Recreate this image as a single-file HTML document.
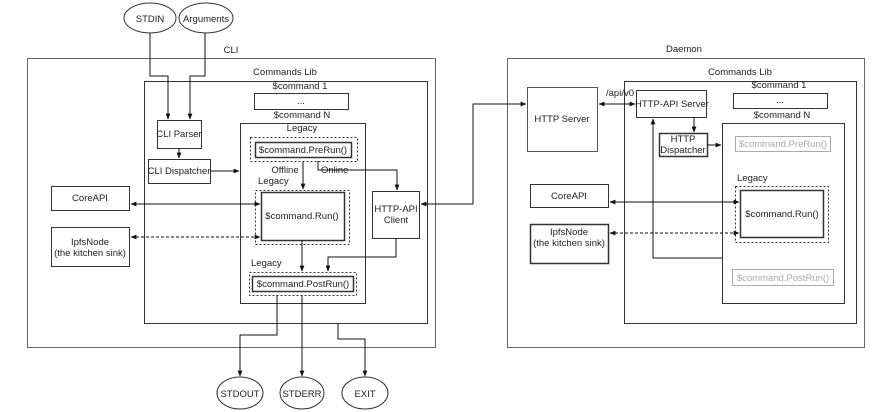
<!DOCTYPE html>
<html><head><meta charset="utf-8"><style>
html,body{margin:0;padding:0;background:#fff}
svg{display:block}
text{font-family:"Liberation Sans",sans-serif;font-size:9.5px;fill:#222}
</style></head><body>
<svg width="880" height="412" viewBox="0 0 880 412" xmlns="http://www.w3.org/2000/svg">
<defs>
<marker id="a" viewBox="0 0 10 10" refX="9" refY="5" markerWidth="6" markerHeight="6" orient="auto-start-reverse"><path d="M0,1 L10,5 L0,9 z" fill="#111"/></marker>
</defs>
<g fill="none" stroke="#333" stroke-width="1">
<ellipse cx="150" cy="18" rx="26" ry="15"/>
<ellipse cx="206" cy="18" rx="27" ry="15"/>
<ellipse cx="240" cy="393" rx="23" ry="16"/>
<ellipse cx="302" cy="393" rx="22" ry="16"/>
<ellipse cx="365" cy="393" rx="23" ry="16"/>
<rect x="27.5" y="58.5" width="408" height="289" stroke="#666"/>
<rect x="144.5" y="81.5" width="283" height="242"/>
<rect x="254.5" y="93.5" width="94" height="16"/>
<rect x="240.5" y="123.5" width="125" height="180"/>
<rect x="250.5" y="137.5" width="107" height="24" stroke-dasharray="2,2"/>
<rect x="255.5" y="142.5" width="96" height="15" stroke-width="1.5"/>
<rect x="255.5" y="190.5" width="94" height="54" stroke-dasharray="2,2"/>
<rect x="261.5" y="192.5" width="83" height="48" stroke-width="1.5"/>
<rect x="372.5" y="191.5" width="47" height="47"/>
<rect x="249.5" y="272.5" width="107" height="23" stroke-dasharray="2,2"/>
<rect x="252.5" y="276.5" width="101" height="15" stroke-width="1.5"/>
<rect x="157.5" y="120.5" width="44" height="28"/>
<rect x="148.5" y="159.5" width="62" height="24"/>
<rect x="51.5" y="186.5" width="78" height="24"/>
<rect x="51.5" y="227.5" width="78" height="39"/>
<rect x="507.5" y="58.5" width="357" height="289" stroke="#666"/>
<rect x="624.5" y="81.5" width="232" height="242"/>
<rect x="527.5" y="87.5" width="70" height="64" stroke="#555"/>
<rect x="636.5" y="90.5" width="70" height="27"/>
<rect x="733.5" y="93.5" width="94" height="15"/>
<rect x="722.5" y="123.5" width="122" height="180"/>
<rect x="659.5" y="133.5" width="48" height="23" stroke-width="1.5"/>
<rect x="735.5" y="136.5" width="95" height="15" stroke="#aaa"/>
<rect x="735.5" y="186.5" width="93" height="56" stroke-dasharray="2,2"/>
<rect x="740.5" y="190.5" width="83" height="47" stroke-width="1.5"/>
<rect x="530.5" y="184.5" width="78" height="23"/>
<rect x="530.5" y="224.5" width="78" height="39" stroke-width="1.5"/>
<rect x="732.5" y="269.5" width="101" height="16" stroke="#aaa"/>
</g>
<g fill="none" stroke="#111" stroke-width="1">
<path d="M150,33 V76 H168 V119" marker-end="url(#a)"/>
<path d="M205,33 V76 H190 V119" marker-end="url(#a)"/>
<path d="M179,148 V158" marker-end="url(#a)"/>
<path d="M210,171 H239" marker-end="url(#a)"/>
<path d="M303,161 V189" marker-end="url(#a)"/>
<path d="M318,161 V170 H397 V190" marker-end="url(#a)"/>
<path d="M131,204 H260" marker-start="url(#a)" marker-end="url(#a)"/>
<path d="M131,237 H260" stroke-dasharray="3,2" marker-start="url(#a)" marker-end="url(#a)"/>
<path d="M302,240 V271" marker-end="url(#a)"/>
<path d="M396,238 V257 H328 V271" marker-end="url(#a)"/>
<path d="M277,295 V335 H240 V376" marker-end="url(#a)"/>
<path d="M302,295 V376" marker-end="url(#a)"/>
<path d="M338,323 V339 H365 V376" marker-end="url(#a)"/>
<path d="M421,204 H473 V104 H526" marker-start="url(#a)" marker-end="url(#a)"/>
<path d="M599,104 H635" marker-start="url(#a)" marker-end="url(#a)"/>
<path d="M694,117 V132" marker-end="url(#a)"/>
<path d="M707,145 H721" marker-end="url(#a)"/>
<path d="M610,202 H739" marker-start="url(#a)" marker-end="url(#a)"/>
<path d="M610,233 H739" stroke-dasharray="3,2" marker-start="url(#a)" marker-end="url(#a)"/>
<path d="M722,258 H653 V119" marker-end="url(#a)"/>
</g>
<g text-anchor="middle">
<text x="150" y="22">STDIN</text>
<text x="206" y="22">Arguments</text>
<text x="240" y="397">STDOUT</text>
<text x="302" y="397">STDERR</text>
<text x="365" y="397">EXIT</text>
<text x="231" y="53">CLI</text>
<text x="285" y="75">Commands Lib</text>
<text x="300" y="89">$command 1</text>
<text x="301" y="104" font-size="7">...</text>
<text x="302" y="118">$command N</text>
<text x="302" y="131">Legacy</text>
<text x="303" y="153">$command.PreRun()</text>
<text x="285" y="173">Offline</text>
<text x="302" y="219">$command.Run()</text>
<text x="396" y="212">HTTP-API</text>
<text x="396" y="223">Client</text>
<text x="303" y="287">$command.PostRun()</text>
<text x="179" y="137">CLI Parser</text>
<text x="179" y="174">CLI Dispatcher</text>
<text x="90" y="201">CoreAPI</text>
<text x="90" y="245">IpfsNode</text>
<text x="90" y="256">(the kitchen sink)</text>
<text x="684" y="52">Daemon</text>
<text x="740" y="75">Commands Lib</text>
<text x="779" y="88">$command 1</text>
<text x="780" y="103" font-size="7">...</text>
<text x="782" y="118">$command N</text>
<text x="562" y="122">HTTP Server</text>
<text x="620" y="96">/api/v0</text>
<text x="672" y="107">HTTP-API Server</text>
<text x="683" y="142">HTTP</text>
<text x="683" y="153">Dispatcher</text>
<text x="783" y="147" style="fill:#aaa">$command.PreRun()</text>
<text x="782" y="217">$command.Run()</text>
<text x="569" y="199">CoreAPI</text>
<text x="569" y="235">IpfsNode</text>
<text x="569" y="246">(the kitchen sink)</text>
<text x="783" y="281" style="fill:#aaa">$command.PostRun()</text>
</g>
<text x="321" y="173">Online</text>
<text x="258" y="184">Legacy</text>
<text x="251" y="266">Legacy</text>
<text x="737" y="181">Legacy</text>
</svg>
</body></html>
